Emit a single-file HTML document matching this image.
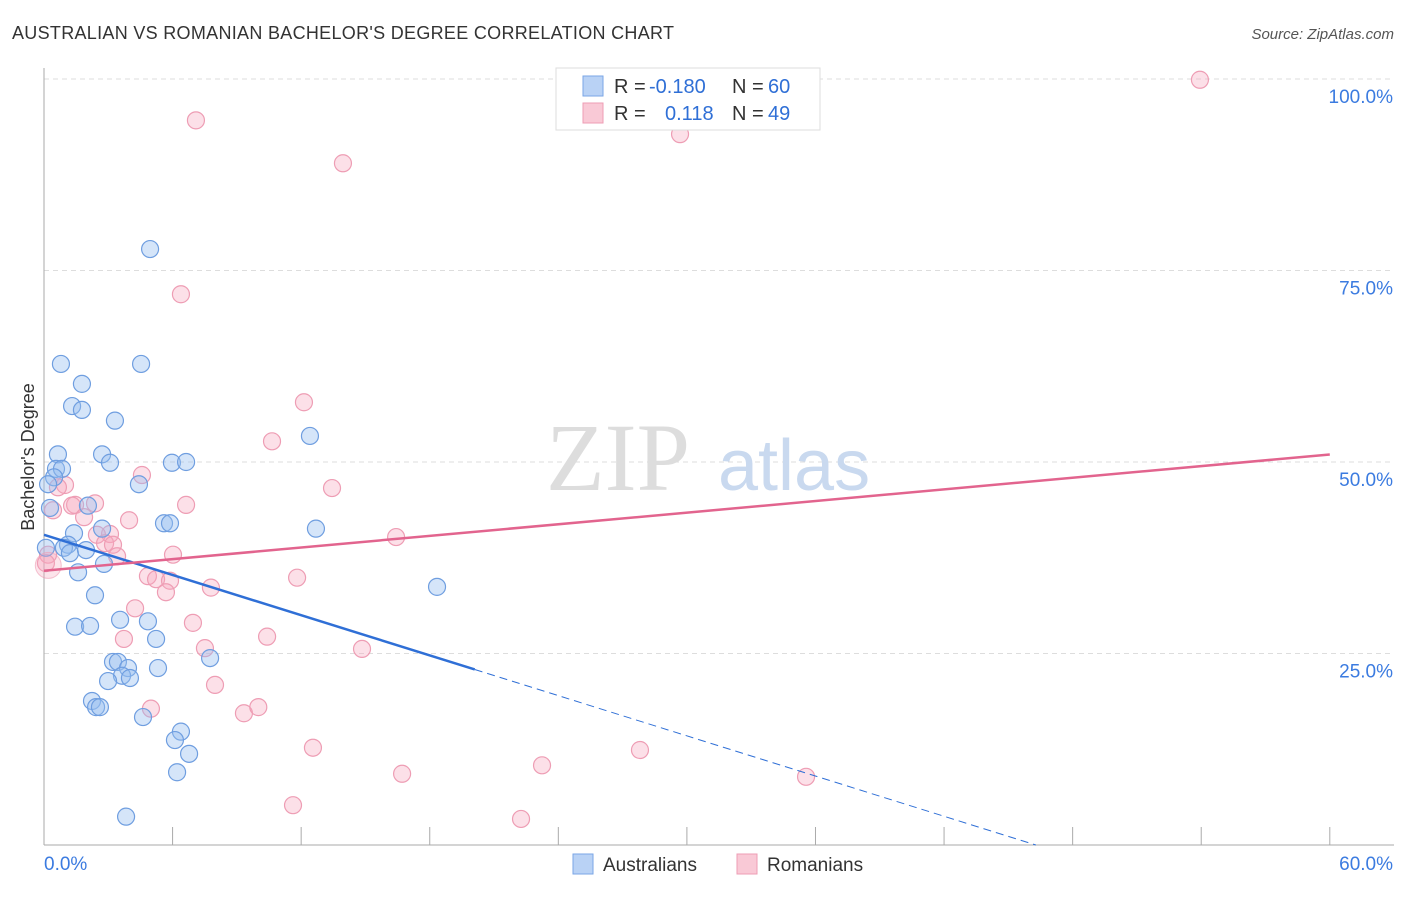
<!DOCTYPE html>
<html><head><meta charset="utf-8"><style>
body{margin:0;background:#fff;font-family:"Liberation Sans",sans-serif}
</style></head><body>
<svg id="chart" width="1406" height="892" xmlns="http://www.w3.org/2000/svg" style="font-family:'Liberation Sans',sans-serif">
<text x="12" y="39" font-size="18" fill="#333" textLength="662">AUSTRALIAN VS ROMANIAN BACHELOR'S DEGREE CORRELATION CHART</text>
<text x="1394" y="39" font-size="15" fill="#555" font-style="italic" text-anchor="end">Source: ZipAtlas.com</text>
<g id="grid"></g>
<text x="690" y="490" font-size="96" fill="#ddd" text-anchor="end" font-family="Liberation Serif">ZIP</text>
<text x="718" y="490" font-size="72" fill="#c9d9ef">atlas</text>
<g id="axes"></g>
<g id="pts"></g>
<g id="trend"></g>
<text transform="translate(34,457) rotate(-90)" font-size="18" fill="#333" text-anchor="middle">Bachelor's Degree</text>
<g font-size="20">
<rect x="556" y="68" width="264" height="62" fill="#fff" stroke="#ddd"/>
<rect x="583" y="76" width="20" height="20" fill="#b9d2f5" stroke="#7aa6e6"/>
<rect x="583" y="103" width="20" height="20" fill="#f9c9d6" stroke="#ee9db4"/>
<text x="614" y="93" fill="#333">R =</text>
<text x="649" y="93" fill="#2f6fd6">-0.180</text>
<text x="732" y="93" fill="#333">N =</text>
<text x="768" y="93" fill="#2f6fd6">60</text>
<text x="614" y="120" fill="#333">R =</text>
<text x="665" y="120" fill="#2f6fd6">0.118</text>
<text x="732" y="120" fill="#333">N =</text>
<text x="768" y="120" fill="#2f6fd6">49</text>
</g>
<g>
<rect x="573" y="854" width="20" height="20" fill="#b9d2f5" stroke="#7aa6e6"/>
<text x="603" y="871" font-size="19" fill="#333">Australians</text>
<rect x="737" y="854" width="20" height="20" fill="#f9c9d6" stroke="#ee9db4"/>
<text x="767" y="871" font-size="19" fill="#333">Romanians</text>
</g>
</svg>
<script>
const xTicks=[0,6,12,18,24,30,36,42,48,54,60];
const yTicks=[25,50,75,100];
const yTickLabels=["25.0%","50.0%","75.0%","100.0%"];
const ausX=[4.95,0.79,4.53,1.77,1.31,1.77,3.31,12.41,0.65,2.71,3.08,5.97,6.63,0.56,0.84,0.47,0.19,4.43,2.05,0.28,5.6,5.88,12.69,2.71,1.4,1.12,0.93,1.21,1.96,2.8,1.59,18.34,2.38,3.55,4.85,1.45,2.15,5.23,3.22,3.45,3.92,5.32,7.75,3.64,4.01,2.99,2.24,2.43,2.61,4.62,6.39,6.11,6.77,6.21,3.83,0.09];
const ausY=[77.8,62.8,62.8,60.2,57.3,56.8,55.4,53.4,51.0,51.0,49.9,49.9,50.0,49.1,49.1,48.0,47.1,47.1,44.3,44.0,42.0,42.0,41.3,41.3,40.7,39.2,38.8,38.1,38.5,36.7,35.6,33.7,32.6,29.4,29.2,28.5,28.6,26.9,23.9,23.9,23.1,23.1,24.4,22.1,21.8,21.4,18.8,18.0,18.0,16.7,14.8,13.7,11.9,9.5,3.7,38.8];
const romX=[53.94,7.09,29.68,13.95,6.39,12.13,10.64,4.57,13.44,0.98,0.65,2.38,1.45,1.31,6.63,0.42,1.87,3.97,16.43,3.08,2.47,2.85,3.22,3.41,6.02,0.19,0.09,4.85,5.23,5.88,5.69,11.81,7.79,4.25,6.95,3.73,7.51,10.41,14.84,7.98,4.99,9.33,10.0,12.55,27.81,23.24,16.71,35.56,11.62,22.26];
const romY=[99.9,94.6,92.8,89.0,71.9,57.8,52.7,48.3,46.6,47.0,46.7,44.6,44.4,44.3,44.4,43.7,42.8,42.4,40.2,40.6,40.5,39.4,39.2,37.7,37.9,37.9,36.8,35.1,34.7,34.5,33.0,34.9,33.6,30.9,29.0,26.9,25.7,27.2,25.6,20.9,17.8,17.2,18.0,12.7,12.4,10.4,9.3,8.9,5.2,3.4];
const ausTrend=[40.5,-0.875];
const romTrend=[35.8,0.253];
const X=v=>44+v*21.43, Y=v=>845-v*7.66;
const NS="http://www.w3.org/2000/svg";
function mk(p,t,a){const e=document.createElementNS(NS,t);for(const k in a)e.setAttribute(k,a[k]);p.appendChild(e);return e;}
const grid=document.getElementById('grid'),axes=document.getElementById('axes'),pts=document.getElementById('pts'),tr=document.getElementById('trend');
yTicks.forEach((t,i)=>{const l=mk(grid,'line',{x1:44,x2:1394,y1:Y(t),y2:Y(t),stroke:'#ddd','stroke-dasharray':'5,4'});


const tx=mk(axes,'text',{x:1393,y:Y(t)+24,'font-size':19,fill:'#3b7be0','text-anchor':'end'});tx.textContent=yTickLabels[i];

});
mk(axes,'line',{x1:44,x2:44,y1:68,y2:845,stroke:'#aaa'});
mk(axes,'line',{x1:44,x2:1394,y1:845,y2:845,stroke:'#aaa'});
xTicks.forEach(t=>{const l=mk(axes,'line',{x1:X(t),x2:X(t),y1:827,y2:845,stroke:'#aaa'});

});
let a=mk(axes,'text',{x:44,y:870,'font-size':19,fill:'#3b7be0'});a.textContent='0.0%';


a=mk(axes,'text',{x:1393,y:870,'font-size':19,fill:'#3b7be0','text-anchor':'end'});a.textContent='60.0%';


romX.forEach((x,i)=>{const c=mk(pts,'circle',{cx:X(x),cy:Y(romY[i]),r:8.5,fill:'rgba(245,165,190,0.35)',stroke:'#ee9db4','stroke-width':1.2});

});
ausX.forEach((x,i)=>{const c=mk(pts,'circle',{cx:X(x),cy:Y(ausY[i]),r:8.5,fill:'rgba(150,190,240,0.4)',stroke:'#6f9ee0','stroke-width':1.2});

});
let c=mk(pts,'circle',{cx:X(0.2),cy:Y(36.5),r:13,fill:'rgba(245,165,190,0.3)',stroke:'rgba(238,157,180,0.6)'});


const ay=x=>ausTrend[0]+ausTrend[1]*x, ry=x=>romTrend[0]+romTrend[1]*x;
let l=mk(tr,'line',{x1:X(0),y1:Y(ay(0)),x2:X(20.1),y2:Y(ay(20.1)),stroke:'#2f6fd6','stroke-width':2.5});


const xe=-ausTrend[0]/ausTrend[1];
l=mk(tr,'line',{x1:X(20.1),y1:Y(ay(20.1)),x2:X(xe),y2:Y(0),stroke:'#2f6fd6','stroke-width':1,'stroke-dasharray':'8,5'});


l=mk(tr,'line',{x1:X(0),y1:Y(ry(0)),x2:X(60),y2:Y(ry(60)),stroke:'#e2648e','stroke-width':2.5});


</script>
</body></html>
